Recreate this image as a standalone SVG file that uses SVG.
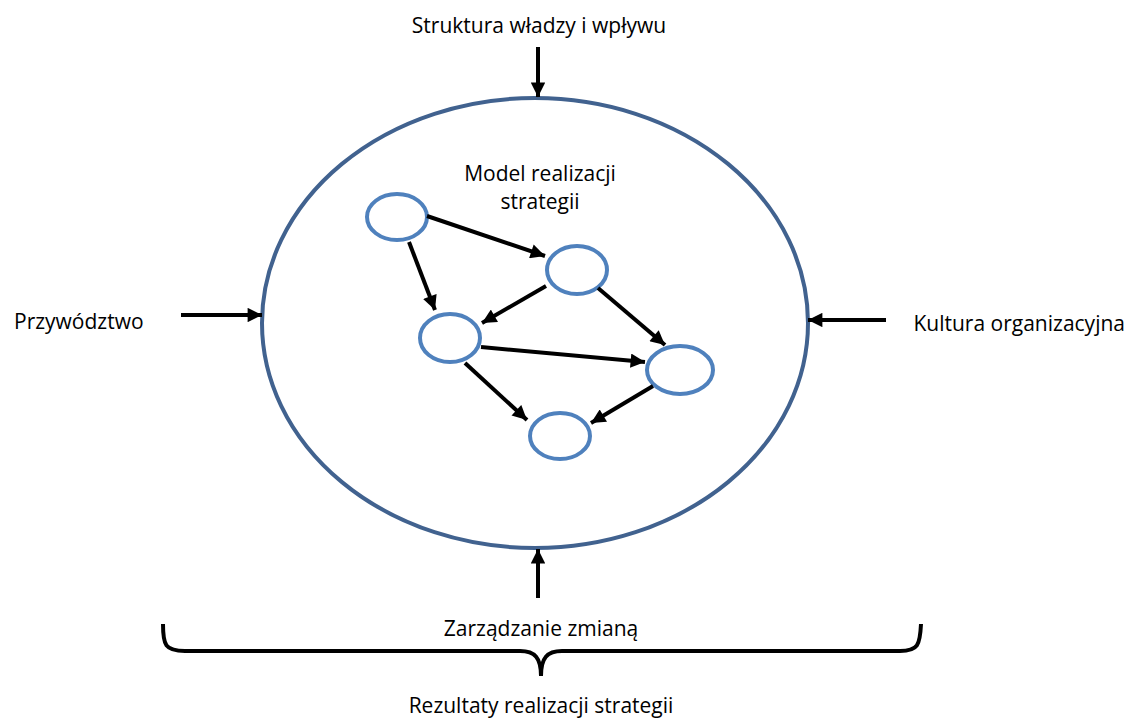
<svg xmlns="http://www.w3.org/2000/svg" width="1130" height="718" viewBox="0 0 1130 718">
<defs>
<marker id="ah" viewBox="0 0 10 10" refX="10" refY="5" markerWidth="3.8" markerHeight="3.6" orient="auto" markerUnits="strokeWidth">
<path d="M0,0 L10,5 L0,10 z" fill="#000"/>
</marker>
<style>
text{font-family:"Open Sans","Liberation Sans",sans-serif;font-size:21px;fill:#000}
.big{fill:#fff;stroke:#41628f;stroke-width:4}
.small{fill:#fff;stroke:#4f81bd;stroke-width:4}
.con line{stroke:#000;stroke-width:4;marker-end:url(#ah)}
</style>
</defs>
<rect width="1130" height="718" fill="#fff"/>
<g id="outer"><ellipse class="big" cx="535" cy="323" rx="273" ry="225"/></g>
<g id="label-top"><text x="539" y="33" text-anchor="middle">Struktura władzy i wpływu</text></g>
<g id="label-left"><text x="14" y="329">Przywództwo</text></g>
<g id="label-right"><text x="1125" y="331" text-anchor="end">Kultura organizacyjna</text></g>
<g id="label-model"><text x="540" y="181" text-anchor="middle">Model realizacji</text><text x="540" y="209" text-anchor="middle">strategii</text></g>
<g id="label-bottom"><text x="541" y="636" text-anchor="middle">Zarządzanie zmianą</text></g>
<g id="label-result"><text x="541" y="713" text-anchor="middle">Rezultaty realizacji strategii</text></g>
<g id="nA"><ellipse class="small" cx="397" cy="217" rx="30" ry="23"/></g>
<g id="nB"><ellipse class="small" cx="577" cy="270" rx="30" ry="24"/></g>
<g id="nC"><ellipse class="small" cx="450" cy="338" rx="30" ry="24"/></g>
<g id="nD"><ellipse class="small" cx="680" cy="370" rx="33" ry="24"/></g>
<g id="nE"><ellipse class="small" cx="560" cy="436" rx="30" ry="23"/></g>
<g class="con" id="connectors">
<line x1="427" y1="216" x2="545" y2="256"/>
<line x1="409" y1="242" x2="435" y2="310"/>
<line x1="546" y1="286" x2="482" y2="323"/>
<line x1="598" y1="288" x2="665" y2="345"/>
<line x1="481" y1="347" x2="645" y2="362"/>
<line x1="465" y1="363" x2="527" y2="420"/>
<line x1="653" y1="386" x2="591" y2="423"/>
<line x1="538" y1="47" x2="538" y2="97"/>
<line x1="181" y1="315" x2="262" y2="315"/>
<line x1="886" y1="320" x2="808" y2="320"/>
<line x1="538" y1="598" x2="538" y2="549"/>
</g>
<g id="brace"><path d="M163,624 C163,645 165,651 185,651 L520,651 C535,651 541,658 541,676 C541,658 547,651 562,651 L900,651 C918,651 920,645 921,624" fill="none" stroke="#000" stroke-width="4"/></g>
</svg>
